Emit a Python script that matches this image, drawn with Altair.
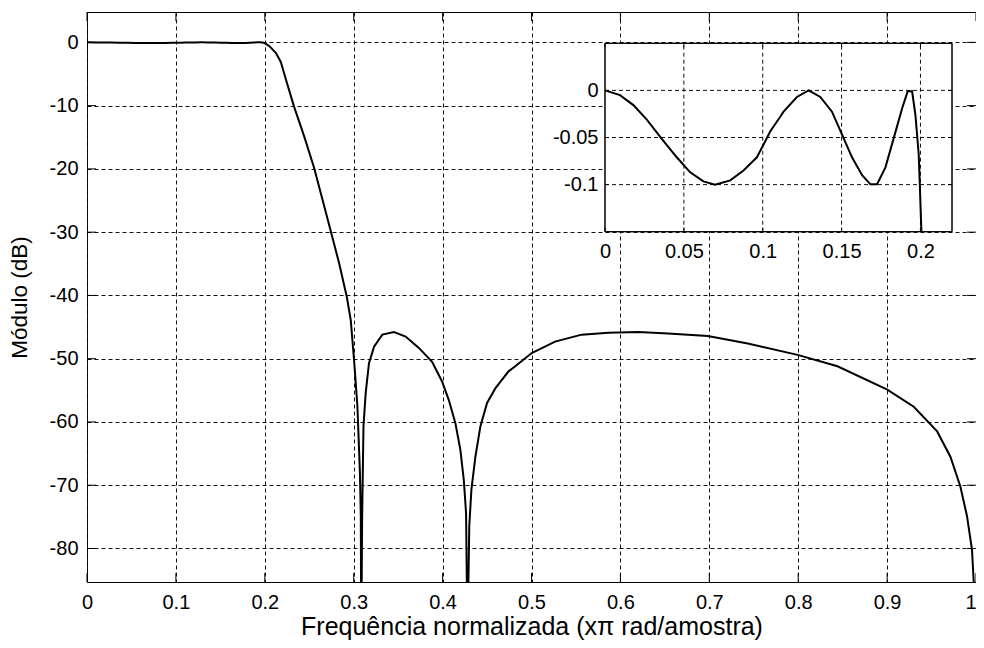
import altair as alt
import pandas as pd

# ---------------- data ----------------
# passband detail (inset), normalized frequency and magnitude in dB
freq_zoom = [0.000, 0.0095, 0.018, 0.0265, 0.036, 0.0455, 0.054, 0.0624, 0.0698,
             0.0794, 0.0878, 0.0963, 0.1016, 0.1048, 0.1111, 0.1132, 0.1217, 0.1291,
             0.1365, 0.1439, 0.1503, 0.1566, 0.1630, 0.1683, 0.1725, 0.1778, 0.1831,
             0.1884, 0.1919, 0.1947, 0.1968, 0.1989, 0.1996, 0.2006]
mag_zoom = [0.000, -0.005, -0.0156, -0.031, -0.0515, -0.071, -0.087, -0.0966, -0.100,
            -0.0955, -0.085, -0.071, -0.054, -0.0434, -0.028, -0.0226, -0.007, 0.000,
            -0.007, -0.0226, -0.047, -0.071, -0.090, -0.0997, -0.0997, -0.0817, -0.0504,
            -0.019, -0.001, -0.001, -0.026, -0.068, -0.100, -0.150]

# transition + stopband (main plot)
freq_stop = [0.2052, 0.2126, 0.2180, 0.2240, 0.2330, 0.2444, 0.2556, 0.2650, 0.2743,
             0.2836, 0.2922, 0.2967, 0.3004, 0.3042, 0.3070, 0.3080, 0.3085, 0.3095,
             0.3110, 0.3135, 0.3172, 0.3229, 0.3322, 0.3453, 0.3584, 0.3733, 0.3882,
             0.3994, 0.4069, 0.4144, 0.4200, 0.4238, 0.4264, 0.4280, 0.4300, 0.4324,
             0.4369, 0.4425, 0.4500, 0.4593, 0.4742, 0.4817, 0.5003, 0.5265, 0.5564,
             0.5863, 0.6200, 0.6536, 0.6984, 0.7433, 0.7993, 0.8442, 0.9002, 0.9300,
             0.9563, 0.9712, 0.9824, 0.9899, 0.9955, 0.9974, 1.0000]
mag_stop = [-0.6, -1.7, -3.1, -6.0, -10.2, -14.9, -19.9, -24.9, -29.9,
            -34.9, -40.2, -43.9, -50.2, -57.6, -68.0, -75.0, -95.0, -75.0,
            -60.7, -55.4, -50.7, -48.1, -46.2, -45.8, -46.5, -48.3, -50.5,
            -53.6, -56.5, -60.2, -64.4, -69.1, -74.4, -95.0, -76.5, -70.7,
            -65.5, -60.7, -57.0, -54.7, -52.0, -51.2, -49.1, -47.3, -46.2,
            -45.9, -45.8, -46.0, -46.4, -47.6, -49.4, -51.2, -54.9, -57.6,
            -61.5, -65.5, -70.2, -74.9, -80.2, -85.2, -95.0]

x_ticks_main = [0, 0.1, 0.2, 0.3, 0.4, 0.5, 0.6, 0.7, 0.8, 0.9, 1]
y_ticks_main = [0, -10, -20, -30, -40, -50, -60, -70, -80]
x_ticks_zoom = [0, 0.05, 0.1, 0.15, 0.2]
y_ticks_zoom = [0, -0.05, -0.1]

main_x_domain = [0, 1]
main_y_domain = [-85.3, 4.8]
zoom_x_domain = [0, 0.22]
zoom_y_domain = [-0.15, 0.05]

x_title = "Frequência normalizada (xπ rad/amostra)"
y_title = "Módulo (dB)"

# ---------------- layout (pixels) ----------------
W, H = 889, 570
ZX_RANGE = [518, 865]
ZY_RANGE = [219.7, 31.3]
FONT = "Liberation Sans"
LABEL_SIZE = 20
X_TITLE_SIZE = 25
Y_TITLE_SIZE = 22.5
GRID_DASH = [4, 3]
INK = "#111"

# ---------------- tables ----------------
main_f = [f for f in freq_zoom if f <= 0.2] + freq_stop
main_m = [m for f, m in zip(freq_zoom, mag_zoom) if f <= 0.2] + mag_stop
df_main = pd.DataFrame({"f": main_f, "db": main_m})
df_zoom = pd.DataFrame({"f": freq_zoom, "db": mag_zoom})


def mx():
    return alt.Scale(domain=main_x_domain, nice=False, zero=False)


def my():
    return alt.Scale(domain=main_y_domain, nice=False, zero=False)


def zx():
    return alt.Scale(domain=zoom_x_domain, range=ZX_RANGE, nice=False, zero=False)


def zy():
    return alt.Scale(domain=zoom_y_domain, range=ZY_RANGE, nice=False, zero=False)


# ---------------- main plot ----------------
main_line = alt.Chart(df_main).mark_line(color="black", strokeWidth=2, clip=True).encode(
    x=alt.X("f:Q", scale=mx(), axis=alt.Axis(
        orient="bottom", values=x_ticks_main, title=x_title,
        grid=True, gridDash=GRID_DASH, gridColor=INK, gridOpacity=1, gridWidth=1,
        ticks=False, domain=False, labelExpr="toString(datum.value)",
        labelAlign={"condition": {"test": "datum.value == 1", "value": "right"}, "value": "center"},
        labelFlush=False, labelOverlap=False, labelPadding=10,
        titlePadding=2, titleFontSize=X_TITLE_SIZE)),
    y=alt.Y("db:Q", scale=my(), axis=alt.Axis(
        orient="left", values=y_ticks_main, title=y_title,
        grid=True, gridDash=GRID_DASH, gridColor=INK, gridOpacity=1, gridWidth=1,
        ticks=False, domain=False, labelExpr="toString(datum.value)",
        labelOverlap=False, labelPadding=9, titlePadding=18, titleFontSize=Y_TITLE_SIZE)),
)

tx_b = pd.DataFrame({"v": x_ticks_main, "e": [main_y_domain[0]] * len(x_ticks_main)})
tx_t = pd.DataFrame({"v": x_ticks_main, "e": [main_y_domain[1]] * len(x_ticks_main)})
ty_l = pd.DataFrame({"v": y_ticks_main, "e": [main_x_domain[0]] * len(y_ticks_main)})
ty_r = pd.DataFrame({"v": y_ticks_main, "e": [main_x_domain[1]] * len(y_ticks_main)})


def vticks(df, sx, sy, size, off):
    return alt.Chart(df).mark_tick(orient="vertical", size=size, thickness=1,
                                   color="black", yOffset=off, opacity=1).encode(
        x=alt.X("v:Q", scale=sx, axis=None), y=alt.Y("e:Q", scale=sy, axis=None))


def hticks(df, sx, sy, size, off):
    return alt.Chart(df).mark_tick(orient="horizontal", size=size, thickness=1,
                                   color="black", xOffset=off, opacity=1).encode(
        y=alt.Y("v:Q", scale=sy, axis=None), x=alt.X("e:Q", scale=sx, axis=None))


# ---------------- inset ----------------
box = pd.DataFrame({"x0": [zoom_x_domain[0]], "x1": [zoom_x_domain[1]],
                    "y0": [zoom_y_domain[0]], "y1": [zoom_y_domain[1]]})
inset_bg = alt.Chart(box).mark_rect(fill="white", stroke="black", strokeWidth=1).encode(
    x=alt.X("x0:Q", scale=zx(), axis=None), x2="x1:Q",
    y=alt.Y("y0:Q", scale=zy(), axis=None), y2="y1:Q")
inset_frame = alt.Chart(box).mark_rect(filled=False, stroke="black", strokeWidth=1).encode(
    x=alt.X("x0:Q", scale=zx(), axis=None), x2="x1:Q",
    y=alt.Y("y0:Q", scale=zy(), axis=None), y2="y1:Q")

gv = pd.DataFrame({"g": x_ticks_zoom[1:], "y0": [zoom_y_domain[0]] * 4, "y1": [zoom_y_domain[1]] * 4})
gh = pd.DataFrame({"g": y_ticks_zoom, "x0": [zoom_x_domain[0]] * 3, "x1": [zoom_x_domain[1]] * 3})
grid_v = alt.Chart(gv).mark_rule(color=INK, strokeDash=GRID_DASH, strokeWidth=1).encode(
    x=alt.X("g:Q", scale=zx(), axis=None),
    y=alt.Y("y0:Q", scale=zy(), axis=None), y2="y1:Q")
grid_h = alt.Chart(gh).mark_rule(color=INK, strokeDash=GRID_DASH, strokeWidth=1).encode(
    y=alt.Y("g:Q", scale=zy(), axis=None),
    x=alt.X("x0:Q", scale=zx(), axis=None), x2="x1:Q")

inset_line = alt.Chart(df_zoom).mark_line(color="black", strokeWidth=2).encode(
    x=alt.X("f:Q", scale=zx(), axis=alt.Axis(
        orient="bottom", offset=-(H - ZY_RANGE[0]), values=x_ticks_zoom, title=None,
        grid=False, ticks=False, domain=False, labelExpr="toString(datum.value)",
        labelFlush=False, labelOverlap=False, labelPadding=10)),
    y=alt.Y("db:Q", scale=zy(), axis=alt.Axis(
        orient="left", offset=-ZX_RANGE[0], values=y_ticks_zoom, title=None,
        grid=False, ticks=False, domain=False, labelExpr="toString(datum.value)",
        labelOverlap=False, labelPadding=7)),
)

zx_b = pd.DataFrame({"v": x_ticks_zoom, "e": [zoom_y_domain[0]] * 5})
zx_t = pd.DataFrame({"v": x_ticks_zoom, "e": [zoom_y_domain[1]] * 5})
zy_l = pd.DataFrame({"v": y_ticks_zoom, "e": [zoom_x_domain[0]] * 3})
zy_r = pd.DataFrame({"v": y_ticks_zoom, "e": [zoom_x_domain[1]] * 3})

layers = [
    main_line,
    vticks(tx_b, mx(), my(), 9, -4.5),
    vticks(tx_t, mx(), my(), 9, 4.5),
    hticks(ty_l, mx(), my(), 9, 4.5),
    hticks(ty_r, mx(), my(), 9, -4.5),
    inset_bg, grid_v, grid_h, inset_line, inset_frame,
    vticks(zx_b, zx(), zy(), 4, -2),
    vticks(zx_t, zx(), zy(), 4, 2),
    hticks(zy_l, zx(), zy(), 4, 2),
    hticks(zy_r, zx(), zy(), 4, -2),
]

chart = alt.layer(*layers).resolve_scale(
    x="independent", y="independent"
).properties(
    width=W, height=H,
    padding={"left": 79, "top": 4, "right": 0, "bottom": 58},
    autosize=alt.AutoSizeParams(type="none"),
    background="white",
).configure_view(
    stroke="black", strokeWidth=1
).configure_axis(
    labelFont=FONT, labelFontSize=LABEL_SIZE, labelColor="black",
    titleFont=FONT, titleFontWeight="normal", titleColor="black",
)

chart.save("out.html", embed_options={"renderer": "svg", "actions": False})
